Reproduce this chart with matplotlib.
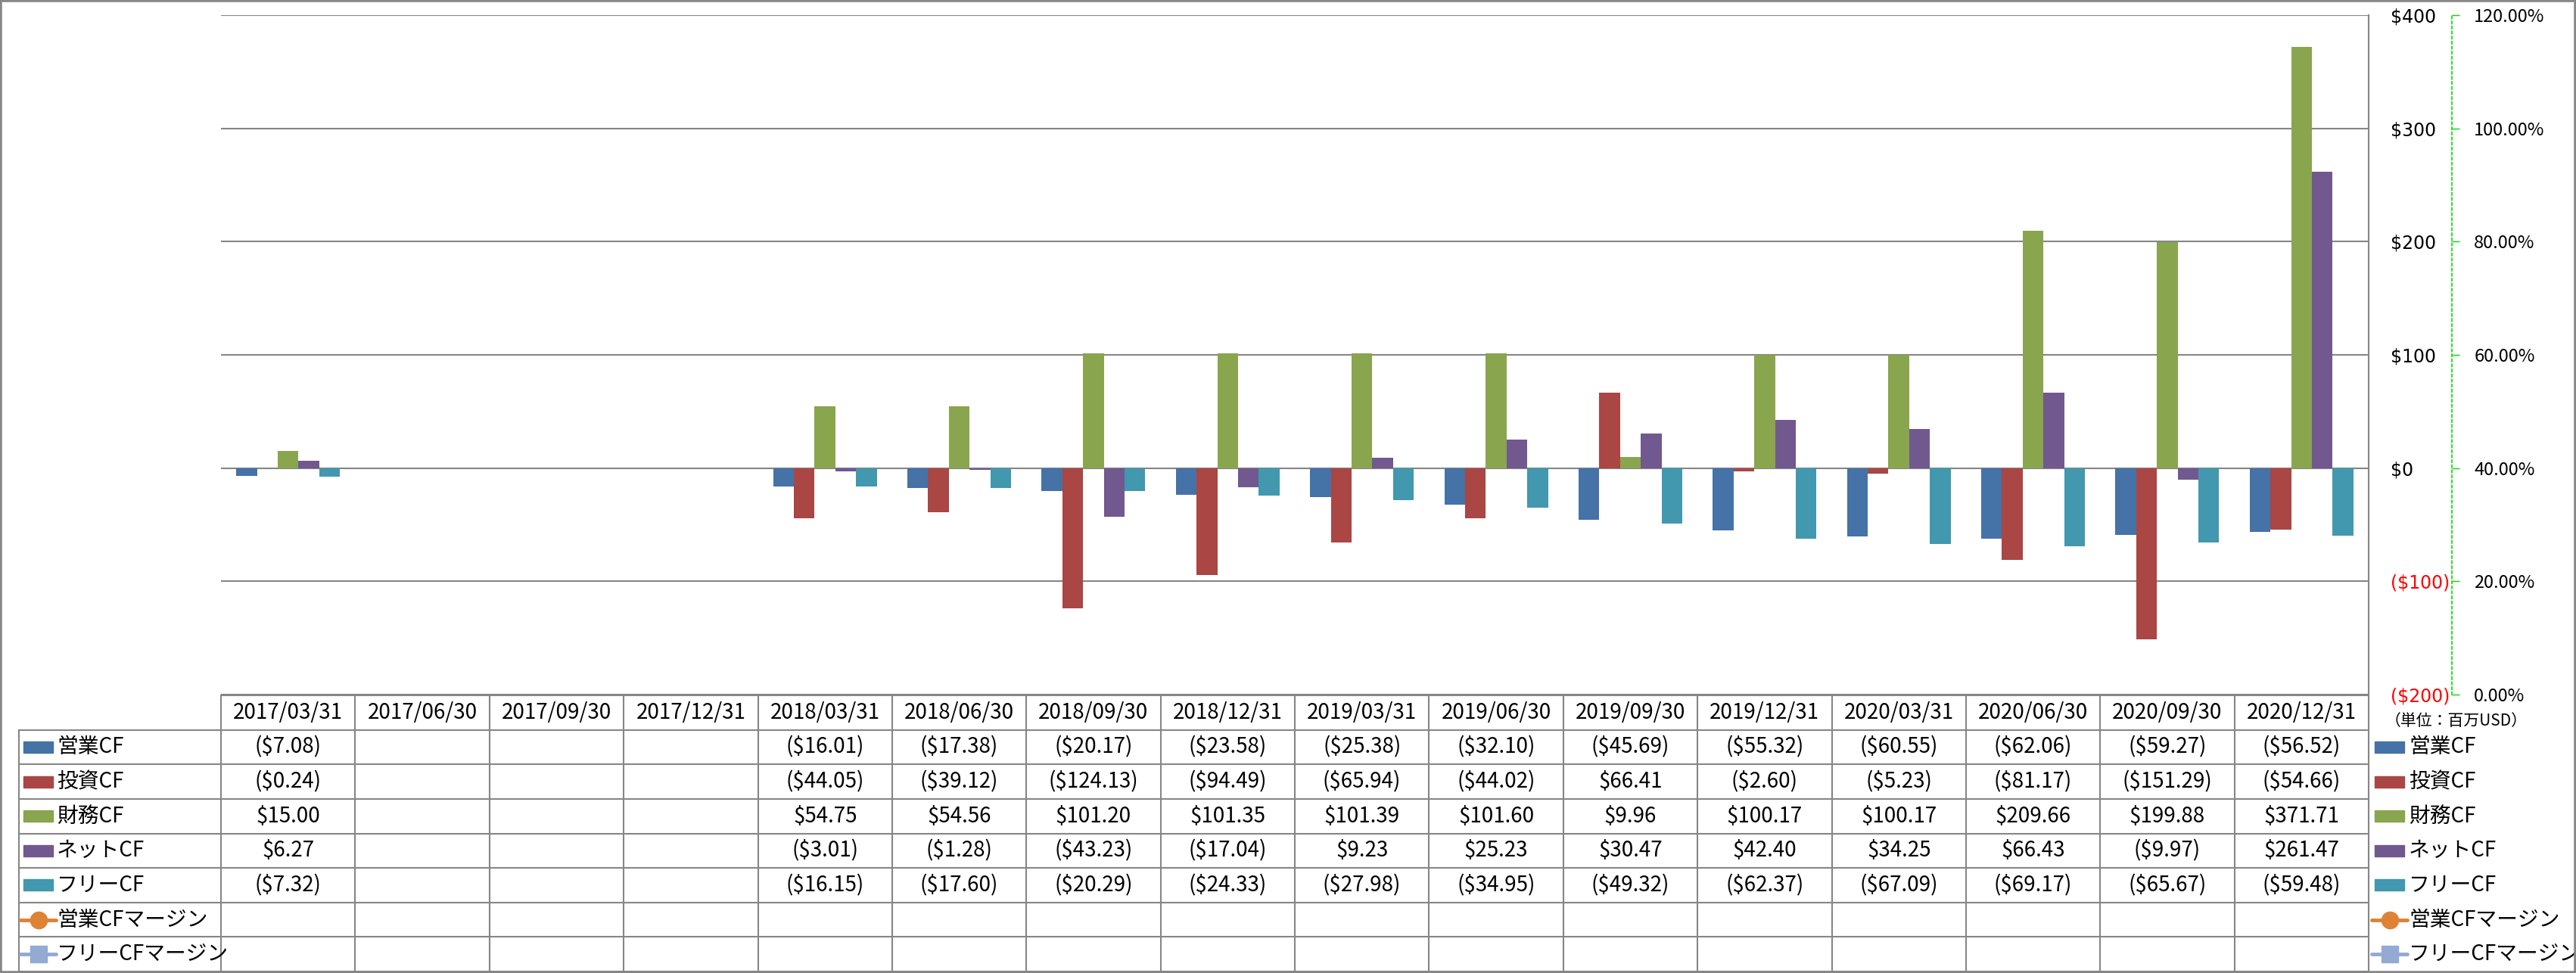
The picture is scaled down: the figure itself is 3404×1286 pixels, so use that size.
import numpy as np
import matplotlib
matplotlib.use('Agg')
from matplotlib import pyplot as plt
from matplotlib.patches import Rectangle

plt.rcParams['font.family'] = ['Noto Sans CJK JP', 'DejaVu Sans']

nan = np.nan

categories = ['2017/03/31', '2017/06/30', '2017/09/30', '2017/12/31',
              '2018/03/31', '2018/06/30', '2018/09/30', '2018/12/31',
              '2019/03/31', '2019/06/30', '2019/09/30', '2019/12/31',
              '2020/03/31', '2020/06/30', '2020/09/30', '2020/12/31']

op_cf = [-7.08, nan, nan, nan, -16.01, -17.38, -20.17, -23.58,
         -25.38, -32.10, -45.69, -55.32, -60.55, -62.06, -59.27, -56.52]
inv_cf = [-0.24, nan, nan, nan, -44.05, -39.12, -124.13, -94.49,
          -65.94, -44.02, 66.41, -2.60, -5.23, -81.17, -151.29, -54.66]
fin_cf = [15.00, nan, nan, nan, 54.75, 54.56, 101.20, 101.35,
          101.39, 101.60, 9.96, 100.17, 100.17, 209.66, 199.88, 371.71]
net_cf = [6.27, nan, nan, nan, -3.01, -1.28, -43.23, -17.04,
          9.23, 25.23, 30.47, 42.40, 34.25, 66.43, -9.97, 261.47]
free_cf = [-7.32, nan, nan, nan, -16.15, -17.60, -20.29, -24.33,
           -27.98, -34.95, -49.32, -62.37, -67.09, -69.17, -65.67, -59.48]

bar_names = ['営業CF', '投資CF', '財務CF', 'ネットCF', 'フリーCF']
line_names = ['営業CFマージン', 'フリーCFマージン']
bar_colors = ['#4572A7', '#AA4643', '#89A54E', '#71588F', '#4198AF']
line_colors = ['#DE8236', '#93AAD3']
line_markers = ['o', 's']

y_ticks = [-200, -100, 0, 100, 200, 300, 400]
pct_ticks = [0.0, 0.2, 0.4, 0.6, 0.8, 1.0, 1.2]

series = [op_cf, inv_cf, fin_cf, net_cf, free_cf]

W, H = 3404, 1286
GRAY = '#868686'


def fx(px):
    return px / W


def fy(py):
    return 1 - py / H


def money(v):
    if np.isnan(v):
        return ''
    if v < 0:
        return f'(${-v:,.2f})'
    return f'${v:,.2f}'


def money_tick(v):
    if v < 0:
        return f'(${-v:.0f})'
    return f'${v:.0f}'


fig = plt.figure(figsize=(W / 100, H / 100), dpi=100)

left, right, top, bottom = 292, 3130, 20, 918
ax = fig.add_axes([fx(left), fy(bottom), fx(right) - fx(left), fy(top) - fy(bottom)])
n = len(categories)
x = np.arange(n) + 0.5
bw = 0.1545
for k, (vals, name, col) in enumerate(zip(series, bar_names, bar_colors)):
    ax.bar(x + (k - 2) * bw, vals, width=bw, color=col, label=name, zorder=3)

ax.set_xlim(0, n)
ax.set_ylim(-200, 400)
ax.set_xticks([])
ax.grid(axis='y', color=GRAY, lw=1.5, zorder=0)
for s in ['left', 'top', 'bottom']:
    ax.spines[s].set_visible(False)
ax.spines['right'].set_color(GRAY)
ax.spines['right'].set_linewidth(1.5)

# secondary (percent) axis, empty margin series
ax2 = ax.twinx()
ax2.set_ylim(0, 1.2)
ax2.set_yticks(pct_ticks)
ax2.set_yticklabels([f'{p * 100:.2f}%' for p in pct_ticks], family='DejaVu Sans')
ax2.spines['right'].set_position(('outward', (3240 - right) * 0.72))
ax2.spines['right'].set_color('#00dd00')
ax2.spines['right'].set_linestyle((0, (2, 2)))
ax2.spines['right'].set_linewidth(1.2)
for s in ['left', 'top', 'bottom']:
    ax2.spines[s].set_visible(False)
ax2.tick_params(axis='y', direction='out', length=7, width=1, color='#00dd00',
                pad=14, labelsize=17)

# primary value labels on the right (after twinx, which resets them)
ax.yaxis.tick_right()
ax.set_yticks(y_ticks)
ax.set_yticklabels([money_tick(v) for v in y_ticks])
for lab, v in zip(ax.get_yticklabels(), y_ticks):
    lab.set_color('red' if v < 0 else 'black')
    lab.set_family('DejaVu Sans')
ax.tick_params(axis='y', which='both', left=False, right=True, labelleft=False,
               labelright=True, length=0, pad=21, labelsize=17)

# data table under the chart
tab = fig.add_axes([fx(left), fy(1284), fx(right) - fx(left), fy(919) - fy(1284)])
tab.set_xlim(0, n)
tab.set_ylim(8, 0)
tab.axis('off')
cw = (right - left) / n
rh = (1284 - 919) / 8
xl = (25 - left) / cw
kw = dict(color=GRAY, lw=1.5, clip_on=False)
tab.plot([0, n], [0, 0], **kw)
for r in range(1, 9):
    tab.plot([xl, n], [r, r], **kw)
for c in range(n + 1):
    tab.plot([c, c], [0, 8], **kw)
tab.plot([xl, xl], [1, 8], **kw)

for i, cat in enumerate(categories):
    tab.text(i + 0.5, 0.5, cat, ha='center', va='center', fontsize=20)
for r, vals in enumerate(series):
    for i, v in enumerate(vals):
        tab.text(i + 0.5, r + 1.5, money(v), ha='center', va='center', fontsize=20)

sh = 15 / rh


def legend_rows(x0, x1, xt):
    for r, (name, col) in enumerate(zip(bar_names, bar_colors)):
        tab.add_patch(Rectangle((x0, r + 1.5 - sh / 2), x1 - x0, sh, color=col, clip_on=False))
        tab.text(xt, r + 1.5, name, ha='left', va='center', fontsize=20)
    for j, (name, col, mk) in enumerate(zip(line_names, line_colors, line_markers)):
        r = 5 + j
        tab.plot([x0 - 0.02, x1 + 0.02], [r + 1.5, r + 1.5], color=col, lw=3.5, clip_on=False,
                 solid_capstyle='round')
        tab.plot([(x0 + x1) / 2], [r + 1.5], marker=mk, ms=16, color=col, mec=col, clip_on=False)
        tab.text(xt, r + 1.5, name, ha='left', va='center', fontsize=20)


legend_rows((31 - left) / cw, (70 - left) / cw, (75 - left) / cw)
legend_rows((3138 - left) / cw, (3177 - left) / cw, (3183 - left) / cw)

fig.text(fx(3246), fy(953), '（単位：百万USD）', ha='center', va='center', fontsize=15)

fig.add_artist(Rectangle((0, 0), 1, 1, transform=fig.transFigure, fill=False, ec=GRAY, lw=4))

fig.savefig('out.png', dpi=100)
